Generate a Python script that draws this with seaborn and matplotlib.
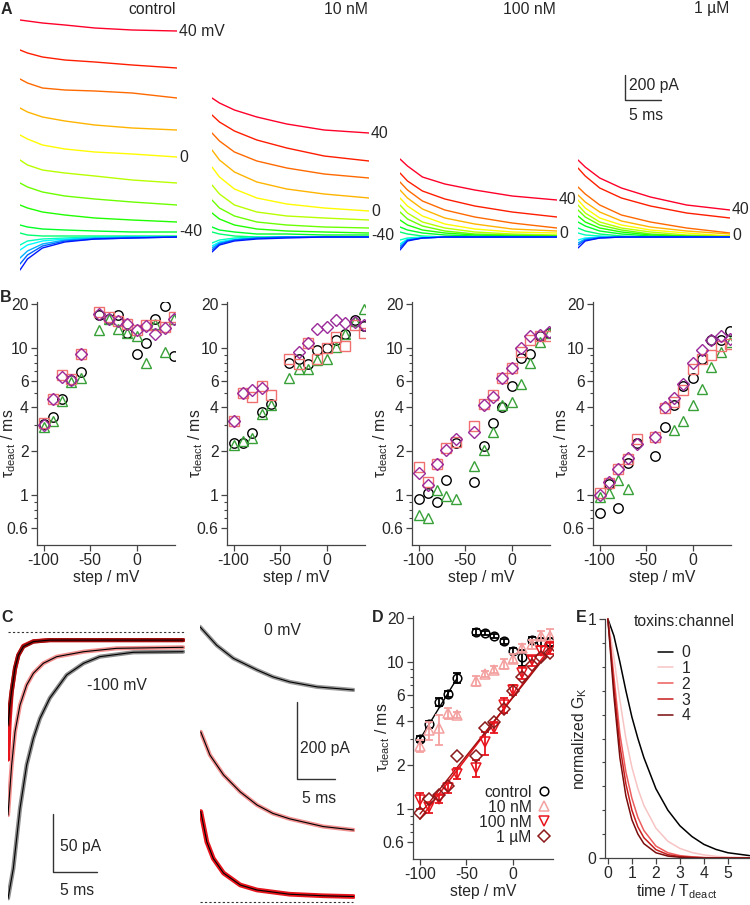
import numpy as np
import matplotlib
matplotlib.use("Agg")
import matplotlib.pyplot as plt
import seaborn as sns
from matplotlib.lines import Line2D
from matplotlib.ticker import FixedLocator, NullFormatter, MultipleLocator

sns.set_style("ticks")
plt.rcParams['font.family'] = ['Liberation Sans', 'DejaVu Sans']
plt.rcParams['mathtext.fontset'] = 'custom'
plt.rcParams['mathtext.rm'] = 'Liberation Sans'
plt.rcParams['mathtext.it'] = 'Liberation Sans:italic'
plt.rcParams['axes.unicode_minus'] = False
FS = 11.3
plt.rcParams['font.size'] = FS

W, H = 750, 905

# ---------------- data ----------------
# A: current traces (pA) sampled at A_TIME (ms), one row per step from -100 to +40 mV
V_STEPS = [-100, -90, -80, -70, -60, -50, -40, -30, -20, -10, 0, 10, 20, 30, 40]
A_TIME = [0, 1, 3, 6, 10, 15, 21]
A_CONTROL = [
    [-264, -176, -88, -40, -16, -8, 0],
    [-216, -144, -72, -32, -16, -8, 0],
    [-168, -112, -56, -24, -8, 0, 0],
    [-104, -64, -32, -16, -8, 0, 0],
    [-64, -32, -16, -8, 0, 0, 0],
    [32, 16, 8, 8, 8, 8, 8],
    [96, 80, 64, 56, 48, 40, 40],
    [256, 232, 200, 176, 152, 136, 120],
    [432, 400, 360, 328, 304, 280, 256],
    [616, 576, 536, 512, 488, 456, 432],
    [816, 784, 736, 704, 680, 664, 640],
    [1032, 1000, 960, 928, 896, 872, 856],
    [1264, 1232, 1192, 1176, 1168, 1152, 1112],
    [1496, 1472, 1440, 1416, 1400, 1376, 1352],
    [1736, 1728, 1712, 1696, 1672, 1656, 1648],
]
A_10NM = [
    [-120, -64, -32, -16, -8, 0, 0],
    [-104, -56, -24, -8, 0, 0, 0],
    [-88, -48, -24, -8, 0, 0, 0],
    [-72, -40, -16, -8, 0, 0, 0],
    [-48, -24, -8, 0, 0, 0, 0],
    [40, 24, 8, 0, 0, 0, 0],
    [80, 56, 40, 24, 24, 16, 16],
    [192, 144, 96, 64, 48, 40, 32],
    [296, 232, 168, 120, 96, 80, 72],
    [416, 344, 256, 200, 168, 152, 136],
    [560, 480, 384, 312, 264, 232, 208],
    [696, 616, 520, 440, 384, 344, 312],
    [832, 768, 680, 608, 552, 504, 472],
    [976, 920, 848, 776, 712, 648, 608],
    [1112, 1072, 1016, 960, 904, 856, 832],
]
A_100NM = [
    [-104, -32, -8, 0, 0, 0, 0],
    [-88, -24, -8, 0, 0, 0, 0],
    [-72, -24, -8, 0, 0, 0, 0],
    [-56, -16, 0, 0, 0, 0, 0],
    [-24, -8, 0, 0, 0, 0, 0],
    [40, 24, 8, 0, 0, 0, 0],
    [80, 56, 32, 16, 8, 8, 0],
    [136, 96, 56, 32, 16, 8, 8],
    [200, 144, 88, 48, 24, 16, 8],
    [256, 192, 120, 72, 40, 24, 16],
    [312, 248, 168, 104, 64, 40, 32],
    [376, 312, 224, 152, 104, 64, 48],
    [440, 376, 288, 216, 160, 112, 72],
    [512, 448, 368, 304, 248, 200, 160],
    [624, 568, 480, 424, 376, 328, 296],
]
A_1UM = [
    [-88, -32, -8, 0, 0, 0, 0],
    [-64, -24, -8, 0, 0, 0, 0],
    [-48, -16, 0, 0, 0, 0, 0],
    [-24, -8, 0, 0, 0, 0, 0],
    [32, 16, 8, 0, 0, 0, 0],
    [72, 48, 24, 8, 0, 0, 0],
    [120, 88, 48, 24, 8, 0, 0],
    [168, 120, 72, 40, 16, 8, 0],
    [216, 160, 96, 56, 24, 8, 0],
    [256, 192, 120, 72, 40, 16, 8],
    [296, 232, 152, 96, 56, 32, 8],
    [336, 280, 200, 128, 80, 48, 24],
    [400, 344, 256, 176, 120, 72, 32],
    [552, 488, 392, 312, 248, 192, 152],
    [616, 560, 472, 392, 320, 256, 216],
]
A_NAMES = ["control", "10 nM", "100 nM", "1 µM"]

# B: tau_deact (ms) per step, four cells per panel
B_V = [-100, -90, -80, -70, -60, -40, -30, -20, -10, 0, 10, 20, 30, 40]
nan = np.nan
B_CIRC = [
    [3.05, 3.4, 4.5, 6.1, 6.9, 16.7, 15.8, 16.8, 12.7, 9.2, 10.9, 15.8, 19.3, 8.8],
    [2.27, 2.27, 2.65, 3.7, 4.2, 8.0, 8.5, 7.8, 9.7, 10.0, 11.3, 12.5, 15.6, 14.1],
    [0.95, 1.03, 0.9, 1.28, 2.27, 1.24, 2.15, 3.1, 4.0, 5.5, 8.6, 9.1, 12.2, 12.7],
    [0.76, 1.2, 0.82, 1.67, 2.27, 1.84, 2.9, 4.1, 5.5, 6.3, 8.4, 11.3, 11.4, 13.1],
]
B_TRI = [
    [2.9, 3.2, 4.4, 5.9, 6.3, 13.4, 15.8, 13.5, 12.6, 12.1, 8.0, 14.7, 9.5, 15.8],
    [2.2, 2.35, 2.45, 3.6, 4.1, 6.3, 7.2, 7.2, 8.3, 8.4, 10.2, 12.5, 15.3, 18.5],
    [0.74, 0.7, 1.09, 0.99, 0.95, 1.59, 2.04, 2.7, 4.1, 4.3, 5.7, 7.9, 11.0, 12.7],
    [0.97, 1.03, 1.27, 1.1, nan, nan, nan, 2.8, 3.2, 4.1, 5.3, 7.5, 9.4, 11.1],
]
B_SQ = [
    [3.1, 4.5, 6.6, 6.2, 9.2, 17.6, 16.2, 15.3, 14.7, 13.3, 14.3, 14.3, 13.9, 16.3],
    [3.2, 5.0, 4.7, 5.5, 4.8, 8.4, 7.8, 10.9, 8.4, 10.0, 12.0, 10.3, 14.3, 12.6],
    [1.57, 1.23, 1.64, 2.1, 2.3, 2.97, 4.2, 4.8, 6.3, 7.4, 9.5, 11.4, 12.1, 12.1],
    [1.03, 1.22, 1.5, 1.76, 2.4, 2.5, 3.9, 4.3, 5.2, 7.2, 8.4, 9.0, 10.3, 10.7],
]
B_DIA = [
    [3.0, 4.5, 6.4, 6.1, 9.2, 17.2, 15.8, 15.3, 14.6, 13.3, 14.1, 12.5, 13.8, 15.8],
    [3.2, 5.0, 5.2, 5.4, nan, nan, 9.4, 10.9, 13.5, 13.9, 15.6, 14.9, 15.1, 14.4],
    [1.43, 1.17, 1.64, 2.05, 2.4, 2.7, 4.1, 4.7, 6.3, 7.4, 10.0, 12.1, 12.4, 12.8],
    [1.0, 1.24, 1.5, 1.8, 2.25, 2.5, 4.0, 4.6, 5.7, 8.0, 9.8, 11.3, 12.2, 11.5],
]

# C: tail currents (pA) at -100 mV and 0 mV
C_L_T_CTRL = [0, 0.6, 1.35, 2.1, 2.85, 3.6, 4.7, 6.6, 8.5, 10.3, 14.1, 19.7]
C_L_CTRL = [-229.6, -203.7, -152, -114.6, -91.6, -74.4, -57, -37, -27, -21.3, -17.5, -17]
C_L_T_10 = [0, 0.41, 0.79, 1.35, 2.1, 2.85, 3.97, 5.47, 8.5, 12.2, 19.7]
C_L_10 = [-157.8, -114.7, -85.9, -62.9, -45.7, -35.6, -27, -21.3, -17, -14.1, -13.2]
C_L_T_RED = [0, 0.2, 0.41, 0.79, 1.16, 1.72, 2.85, 4.7, 19.7]
C_L_100 = [-110, -75, -52, -32, -20, -12, -8, -7, -7]
C_L_1U = [-80, -64, -51, -31, -20, -12.6, -8.3, -7, -7]

C_R_T_CTRL = [0, 2.2, 4.4, 7.5, 9.6, 11.8, 15.4, 20.2]
C_R_CTRL = [715, 667, 633, 603, 585, 572, 559, 551]
C_R_T_10 = [0.1, 1.3, 3.1, 5.3, 7.5, 9.6, 11.8, 16.2, 20.2]
C_R_10 = [442, 382, 330, 286, 252, 230, 216, 196, 187]
C_R_T_RED = [0.1, 0.9, 1.75, 3.1, 5.3, 7.5, 11.8, 16.2, 20.2]
C_R_RED = [235, 156, 113, 75, 44, 31, 20, 16, 14]

# D: mean tau_deact (ms)
D_CONTROL = [3.0, 3.8, 5.4, 6.1, 7.8, 16.1, 15.8, 15.1, 13.9, 11.9, 10.8, 14.2, 13.8, 13.8]
D_CONTROL_ERR = [0.15, 0.2, 0.35, 0.3, 0.6, 0.8, 0.5, 0.4, 0.5, 0.6, 1.3, 0.6, 0.9, 0.9]
D_10NM = [2.7, 3.45, 3.55, 4.5, 4.4, 7.5, 8.3, 8.9, 9.8, 10.6, 12.5, 13.3, 15.2, 15.2]
D_10NM_ERR = [0.25, 0.5, 0.8, 0.4, 0.2, 0.6, 0.4, 0.5, 0.8, 0.7, 0.8, 0.9, 1.0, 1.5]
D_100NM = [1.15, 1.03, 1.18, 1.4, 1.75, 1.92, 2.85, 3.6, 5.1, 6.5, 8.5, 10.3, 12.0, 12.5]
D_100NM_ERR = [0.15, 0.08, 0.08, 0.1, 0.15, 0.25, 0.5, 0.3, 0.6, 0.5, 0.8, 0.8, 0.8, 1.2]
D_1UM = [0.95, 1.18, 1.25, 1.45, 2.3, 2.3, 3.6, 3.9, 4.8, 6.4, 7.9, 9.6, 10.9, 11.6]
D_FIT_CTRL_V = [-100, -60]
D_FIT_CTRL = [3.0, 7.8]
D_FIT_V = [-100, 40]
D_FIT_100NM = [0.86, 12.5]
D_FIT_1UM = [0.93, 12.0]

# E: normalized conductance vs time / tau
E_T = [0, 0.25, 0.5, 0.75, 1, 1.25, 1.5, 2, 2.5, 3, 3.5, 4, 4.5, 5, 5.9]
E_G = [
    [1.0, 0.93, 0.82, 0.70, 0.59, 0.50, 0.42, 0.29, 0.20, 0.135, 0.09, 0.057, 0.036, 0.022, 0.01],
    [1.0, 0.84, 0.66, 0.50, 0.38, 0.29, 0.22, 0.125, 0.07, 0.04, 0.023, 0.013, 0.007, 0.004, 0.001],
    [1.0, 0.76, 0.52, 0.36, 0.25, 0.17, 0.115, 0.05, 0.022, 0.01, 0.005, 0.002, 0.001, 0, 0],
    [1.0, 0.72, 0.47, 0.31, 0.20, 0.13, 0.085, 0.035, 0.014, 0.006, 0.003, 0.001, 0, 0, 0],
    [1.0, 0.68, 0.42, 0.26, 0.16, 0.10, 0.06, 0.022, 0.008, 0.003, 0.001, 0, 0, 0, 0],
]
E_LABELS = ["0", "1", "2", "3", "4"]
E_COLORS = ["#000000", "#f7c4c4", "#ec5c5c", "#c81c1c", "#7a0c0c"]

# ---------------- figure ----------------
fig = plt.figure(figsize=(W / 100, H / 100), dpi=100)


def px_axes(x0, y0, x1, y1):
    return fig.add_axes([x0 / W, 1 - y1 / H, (x1 - x0) / W, (y1 - y0) / H])


def style_axes(ax):
    for s in ["top", "right"]:
        ax.spines[s].set_visible(False)
    for s in ["left", "bottom"]:
        ax.spines[s].set_color("#444444")
        ax.spines[s].set_linewidth(0.9)
    ax.tick_params(which="major", direction="out", length=4, width=0.9, color="#444444", labelsize=FS, pad=2)
    ax.tick_params(which="minor", direction="out", length=2.5, width=0.8, color="#444444")


def panel_letter(x, y, s):
    fig.text(x / W, 1 - y / H, s, fontsize=11.5, fontweight="bold", ha="left", va="center")


cmap = plt.get_cmap("gist_rainbow")
trace_colors = [cmap(0.75 * (len(V_STEPS) - 1 - i) / (len(V_STEPS) - 1)) for i in range(len(V_STEPS))]

# ---- A ----
A_BOXES = [(20, 177), (212, 369), (400, 557), (578, 730)]
A_LABELS = [
    {40: "40 mV", 0: "0", -40: "-40"},
    {40: "40", 0: "0", -40: "-40"},
    {40: "40", 0: "0"},
    {40: "40", 0: "0"},
]
a_axes = []
for (x0, x1), name, traces, labs in zip(A_BOXES, A_NAMES, [A_CONTROL, A_10NM, A_100NM, A_1UM], A_LABELS):
    ax = px_axes(x0, 10, x1, 275)
    for i in range(len(V_STEPS) - 1, -1, -1):
        sns.lineplot(x=A_TIME, y=traces[i], ax=ax, color=trace_colors[i], lw=1.0, legend=False)
    ax.set_xlim(0, 21)
    ax.set_ylim(-304, 1816)
    ax.axis("off")
    for v, s in labs.items():
        k = V_STEPS.index(v)
        ax.annotate(s, xy=(A_TIME[-1], traces[k][-1]), xytext=(1.5, 0), textcoords="offset points",
                    ha="left", va="center", fontsize=FS, annotation_clip=False)
    fig.text((x1 - 1) / W, 1 - 9 / H, name, ha="right", va="center", fontsize=FS)
    a_axes.append(ax)

# A scale bar
sb = a_axes[3]
SB_T, SB_I = 6.5, 1096
sb.plot([SB_T, SB_T, SB_T + 5], [SB_I + 200, SB_I, SB_I], color="#333333", lw=1.0)
sb.text(SB_T + 0.6, SB_I + 115, "200 pA", ha="left", va="center", fontsize=FS)
sb.text(SB_T + 0.6, SB_I - 120, "5 ms", ha="left", va="center", fontsize=FS)
panel_letter(1, 9, "A")

# ---- B ----
LOG_MAJOR = [0.6, 1, 2, 4, 6, 10, 20]
LOG_MINOR = [0.7, 0.8, 0.9, 3, 5, 7, 8, 9]
B_BOXES = [37, 227, 412, 593]
for j, x0 in enumerate(B_BOXES):
    ax = px_axes(x0, 302.4, x0 + 138, 545)
    ax.set_yscale("log")
    ax.plot(B_V, B_CIRC[j], ls="none", marker="o", ms=6.8, mfc="none", mec="black", mew=1.0)
    ax.plot(B_V, B_TRI[j], ls="none", marker="^", ms=7.5, mfc="none", mec="#38a038", mew=1.0)
    ax.plot(B_V, B_SQ[j], ls="none", marker="s", ms=6.5, mfc="none", mec="#f07070", mew=1.0)
    ax.plot(B_V, B_DIA[j], ls="none", marker="D", ms=6.5, mfc="none", mec="#9a2a9a", mew=1.0)
    ax.set_xlim(-107, 41)
    ax.set_ylim(0.46, 20.5)
    ax.yaxis.set_major_locator(FixedLocator(LOG_MAJOR))
    ax.yaxis.set_major_formatter(matplotlib.ticker.FixedFormatter(["0.6", "1", "2", "4", "6", "10", "20"]))
    ax.yaxis.set_minor_locator(FixedLocator(LOG_MINOR))
    ax.yaxis.set_minor_formatter(NullFormatter())
    ax.set_xticks([-100, -50, 0])
    style_axes(ax)
    ax.set_xlabel("step / mV", fontsize=FS, labelpad=1)
    ax.set_ylabel(r"τ$_\mathregular{deact}$ / ms", fontsize=FS)
    ax.yaxis.set_label_coords(-0.135 if j == 0 else -0.16, 0.42)
panel_letter(0, 297, "B")

# ---- C ----
axc = px_axes(8, 622, 185, 905)
axc.axhline(0, color="#333333", lw=0.8, ls=(0, (2, 2)))
sns.lineplot(x=C_L_T_CTRL, y=C_L_CTRL, ax=axc, color="#8c8c8c", lw=3.0)
sns.lineplot(x=C_L_T_10, y=C_L_10, ax=axc, color="#f29090", lw=3.0)
sns.lineplot(x=C_L_T_RED, y=C_L_100, ax=axc, color="#e8141c", lw=3.0)
sns.lineplot(x=C_L_T_RED, y=C_L_1U, ax=axc, color="#a00c0c", lw=3.0)
for t, y in [(C_L_T_CTRL, C_L_CTRL), (C_L_T_10, C_L_10), (C_L_T_RED, C_L_1U)]:
    sns.lineplot(x=t, y=y, ax=axc, color="black", lw=0.8)
axc.set_xlim(0, 19.9)
axc.set_ylim(-235.3, 8.6)
axc.axis("off")
CL_T, CL_I = 5.06, -207
axc.plot([CL_T, CL_T, CL_T + 5], [CL_I + 50, CL_I, CL_I], color="#333333", lw=1.0)
axc.text(CL_T + 0.8, CL_I + 22, "50 pA", ha="left", va="center", fontsize=FS)
axc.text(CL_T + 0.8, CL_I - 16, "5 ms", ha="left", va="center", fontsize=FS)
axc.text(12.2, -45.7, "-100 mV", ha="center", va="center", fontsize=FS)

axr = px_axes(200, 618, 355, 905)
axr.plot([0, 20.2], [0, 0], color="#333333", lw=0.8, ls=(0, (2, 2)))
sns.lineplot(x=C_R_T_CTRL, y=C_R_CTRL, ax=axr, color="#999999", lw=3.0)
sns.lineplot(x=C_R_T_10, y=C_R_10, ax=axr, color="#f29090", lw=3.0)
sns.lineplot(x=C_R_T_RED, y=C_R_RED, ax=axr, color="#e8141c", lw=3.4)
for t, y in [(C_R_T_CTRL, C_R_CTRL), (C_R_T_10, C_R_10), (C_R_T_RED, C_R_RED)]:
    sns.lineplot(x=t, y=y, ax=axr, color="black", lw=0.8)
axr.set_xlim(0, 20.4)
axr.set_ylim(-8, 738)
axr.axis("off")
CR_T, CR_I = 12.76, 319
axr.plot([CR_T, CR_T, CR_T + 5], [CR_I + 200, CR_I, CR_I], color="#333333", lw=1.0)
axr.text(CR_T + 0.4, CR_I + 81, "200 pA", ha="left", va="center", fontsize=FS)
axr.text(CR_T + 0.6, CR_I - 49, "5 ms", ha="left", va="center", fontsize=FS)
axr.text(10.9, 706, "0 mV", ha="center", va="center", fontsize=FS)
panel_letter(1, 617, "C")

# ---- D ----
axd = px_axes(413, 616.4, 553, 859)
axd.set_yscale("log")
sns.lineplot(x=D_FIT_CTRL_V, y=D_FIT_CTRL, ax=axd, color="black", lw=1.0)
sns.lineplot(x=D_FIT_V, y=D_FIT_100NM, ax=axd, color="#e8141c", lw=1.2)
sns.lineplot(x=D_FIT_V, y=D_FIT_1UM, ax=axd, color="#a01010", lw=1.0)
d_sets = [
    ("control", D_CONTROL, D_CONTROL_ERR, "o", "black", 6.2),
    ("10 nM", D_10NM, D_10NM_ERR, "^", "#f4a0a0", 7.0),
    ("100 nM", D_100NM, D_100NM_ERR, "v", "#e8141c", 7.0),
    ("1 µM", D_1UM, None, "D", "#8b1a1a", 6.0),
]
handles = []
for name, vals, err, mk, col, ms in d_sets:
    if err is not None:
        axd.errorbar(B_V, vals, yerr=err, fmt="none", ecolor=col, elinewidth=1.3, capsize=3.2, capthick=1.3)
    axd.plot(B_V, vals, ls="none", marker=mk, ms=ms, mfc="none", mec=col, mew=1.1)
    handles.append(Line2D([], [], ls="none", marker=mk, ms=ms, mfc="none", mec=col, mew=1.1, label=name))
axd.set_xlim(-107.5, 43)
axd.set_ylim(0.46, 20.5)
axd.yaxis.set_major_locator(FixedLocator(LOG_MAJOR))
axd.yaxis.set_major_formatter(matplotlib.ticker.FixedFormatter(["0.6", "1", "2", "4", "6", "10", "20"]))
axd.yaxis.set_minor_locator(FixedLocator(LOG_MINOR))
axd.yaxis.set_minor_formatter(NullFormatter())
axd.set_xticks([-100, -50, 0])
style_axes(axd)
axd.set_xlabel("step / mV", fontsize=FS, labelpad=1)
axd.set_ylabel(r"τ$_\mathregular{deact}$ / ms", fontsize=FS)
axd.yaxis.set_label_coords(-0.15, 0.5)
axd.legend(handles=handles, loc="lower right", bbox_to_anchor=(1.06, 0.02), frameon=False,
           markerfirst=False, handletextpad=0.3, labelspacing=0.0, borderpad=0.1,
           handlelength=1.0, fontsize=FS)
panel_letter(372, 617, "D")

# ---- E ----
axe = px_axes(605, 619, 749.5, 858)
for lab, g, col in zip(E_LABELS, E_G, E_COLORS):
    sns.lineplot(x=E_T, y=g, ax=axe, color=col, lw=1.1, label=lab)
axe.set_xlim(-0.12, 5.9)
axe.set_ylim(0, 1.0)
for ln in axe.lines:
    ln.set_clip_on(False)
axe.set_xticks([0, 1, 2, 3, 4, 5])
axe.set_yticks([0, 1])
axe.yaxis.set_minor_locator(MultipleLocator(0.1))
style_axes(axe)
axe.set_xlabel(r"time / T$_\mathregular{deact}$", fontsize=FS, labelpad=1)
axe.set_ylabel(r"normalized G$_\mathregular{K}$", fontsize=FS)
axe.yaxis.set_label_coords(-0.11, 0.5)
leg = axe.legend(loc="upper left", bbox_to_anchor=(0.3, 0.93), frameon=False, handlelength=1.0,
                 handletextpad=0.5, labelspacing=0.05, borderpad=0.1, fontsize=FS)
axe.text(0.55, 0.99, "toxins:channel", transform=axe.transAxes, ha="center", va="center", fontsize=FS)
panel_letter(576, 617, "E")

fig.savefig("out.png", dpi=100)
